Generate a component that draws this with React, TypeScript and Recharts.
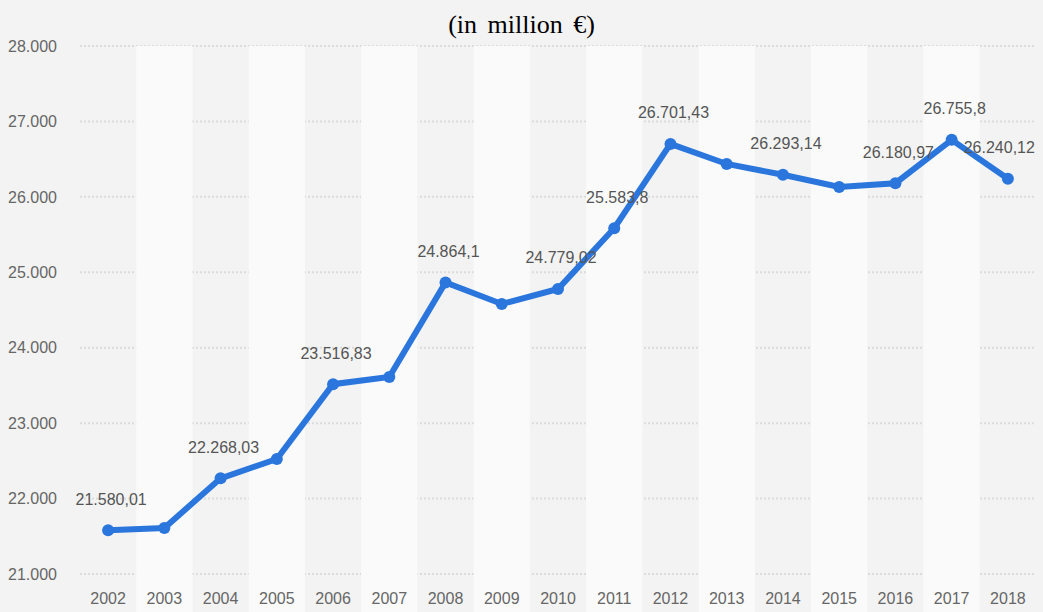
import { ComposedChart, Line, XAxis, YAxis, CartesianGrid, ReferenceArea, LabelList } from "recharts";

const years = [
  "2002", "2003", "2004", "2005", "2006", "2007", "2008", "2009", "2010",
  "2011", "2012", "2013", "2014", "2015", "2016", "2017", "2018",
];
const values = [
  21580.01, 21610, 22268.03, 22525, 23516.83, 23612, 24864.1, 24580, 24779.02,
  25583.8, 26701.43, 26436, 26293.14, 26130, 26180.97, 26755.8, 26240.12,
];
// only these points carry a value label in the original
const labeledYears = ["2002", "2004", "2006", "2008", "2010", "2011", "2012", "2014", "2016", "2017", "2018"];
const yTicks = [21000, 22000, 23000, 24000, 25000, 26000, 27000, 28000];

const data = years.map((year, i) => ({ year, value: values[i] }));

// german style: 21.580,01
const fmt = (v: number) => {
  const [int, dec] = String(v).split(".");
  const grouped = int.replace(/\B(?=(\d{3})+(?!\d))/g, ".");
  return dec ? `${grouped},${dec}` : grouped;
};

const BLUE = "#2a76dd";
const FONT = "'Liberation Sans', Arial, sans-serif";

const ValueLabel = (props: any) => {
  const { x, y, value, index } = props;
  if (!labeledYears.includes(years[index])) return null;
  const last = index === years.length - 1;
  return (
    <text
      x={last ? x + 27 : x + 3}
      y={y - 31}
      textAnchor={last ? "end" : "middle"}
      dominantBaseline="central"
      fontSize={16}
      fontFamily={FONT}
      fill="#555"
    >
      {fmt(value)}
    </text>
  );
};

const BandShape = (props: any) => (
  <rect x={props.x} y={props.y} width={props.width} height={props.height + 38} fill="#fafafa" />
);

export default function App() {
  return (
    <div style={{ position: "absolute", left: 0, top: 0, width: 1043, height: 612, background: "#f3f3f3", overflow: "hidden" }}>
      <div
        style={{
          position: "absolute",
          top: 8,
          left: 0,
          width: 1043,
          textAlign: "center",
          fontFamily: "'Liberation Serif', 'Times New Roman', serif",
          fontSize: 26,
          lineHeight: "34px",
          color: "#000",
          wordSpacing: 4,
        }}
      >
        (in million €)
      </div>
      <ComposedChart width={1043} height={612} data={data} margin={{ top: 46, right: 7, left: 0, bottom: 0 }}>
        {years.map((y, i) =>
          i % 2 === 1 ? (
            <ReferenceArea key={y} x1={y} x2={y} ifOverflow="visible" shape={BandShape} />
          ) : null
        )}
        <CartesianGrid vertical={false} stroke="#dcdcdc" strokeDasharray="2 2" strokeWidth={2} />
        <XAxis
          dataKey="year"
          scale="band"
          axisLine={false}
          tickLine={false}
          tickSize={0}
          tickMargin={19}
          height={38}
          interval={0}
          tick={{ fontSize: 16, fontFamily: FONT, fill: "#666" }}
        />
        <YAxis
          domain={[21000, 28000]}
          ticks={yTicks}
          tickFormatter={fmt}
          axisLine={false}
          tickLine={false}
          tickSize={0}
          tickMargin={23}
          width={80}
          tick={{ fontSize: 16, fontFamily: FONT, fill: "#666" }}
        />
        <Line
          dataKey="value"
          stroke={BLUE}
          strokeWidth={6}
          dot={{ r: 6, fill: BLUE, stroke: "none" }}
          activeDot={false}
          isAnimationActive={false}
        >
          <LabelList dataKey="value" content={ValueLabel} />
        </Line>
      </ComposedChart>
    </div>
  );
}
